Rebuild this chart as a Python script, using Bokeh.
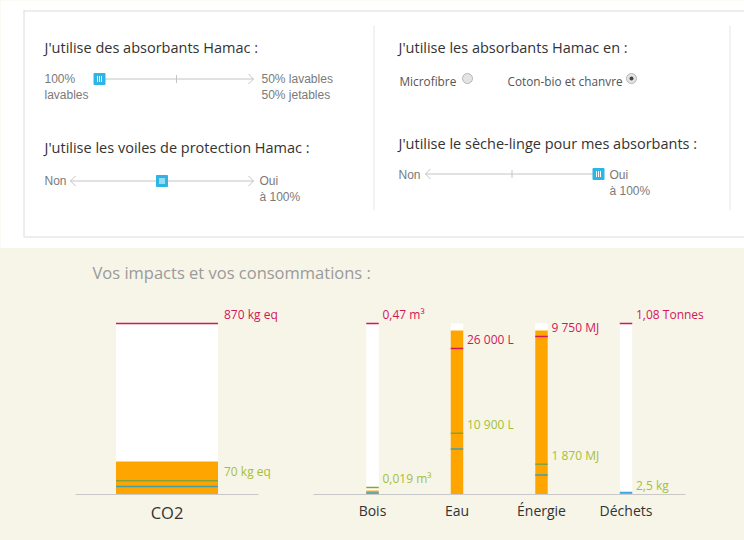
from bokeh.plotting import figure
from bokeh.models import ColumnDataSource, Range1d, LabelSet, FixedTicker
from bokeh.layouts import column, row
from bokeh.embed import file_html
from bokeh.resources import INLINE
from bokeh.core.properties import value

# ---------------- data ----------------
categories = ["CO2", "Bois", "Eau", "Énergie", "Déchets"]
scale_max = [870, 0.47, 30440, 10550, 1080]      # top of white column
worst = [870, 0.47, 26000, 9750, 1080]           # red reference line
current = [168, 0.011, 29200, 10120, 0]          # orange bar
best = [70, 0.019, 10900, 1870, 2.5]             # olive line
low = [41, 0.004, 8080, 1200, 12]                # teal line
worst_labels = ["870 kg eq", "0,47 m³", "26 000 L", "9 750 MJ", "1,08 Tonnes"]
best_labels = ["70 kg eq", "0,019 m³", "10 900 L", "1 870 MJ", "2,5 kg"]
low_colors = ["#3d9fb0", "#3aa8d8", "#3d9fb0", "#3d9fb0", "#3aa8dc"]

slider_titles = ["J'utilise des absorbants Hamac :", "J'utilise les absorbants Hamac en :",
                 "J'utilise les voiles de protection Hamac :", "J'utilise le sèche-linge pour mes absorbants :"]
slider_positions = [0.0, 0.5, 1.0]               # fraction along each track
radio_labels = ["Microfibre", "Coton-bio et chanvre"]
radio_selected = [False, True]

CREAM = "#f6f5e8"
ORANGE = "#ffa500"
RED = "#d3175a"
OLIVE_TXT = "#a6bf3a"
OLIVE_LINE = "#86a23c"
HANDLE = "#2db6e3"
GREY_TXT = "#7a7a7a"

# ---------------- top control panel ----------------
top = figure(width=744, height=248, x_range=Range1d(0, 744), y_range=Range1d(248, 0),
             output_backend="svg", toolbar_location=None, min_border=0,
             x_axis_location=None, y_axis_location=None)
top.grid.visible = False
top.outline_line_color = None
top.background_fill_color = "white"
top.border_fill_color = "white"

# frame of the form
top.segment(x0=[23, 23.5, 23], y0=[10.5, 10, 236.5], x1=[744, 23.5, 744], y1=[10.5, 236, 236.5],
            line_color="#dcdcdc", line_width=1)
top.segment(x0=[373.5, 729.5], y0=[25, 25], x1=[373.5, 729.5], y1=[210, 210],
            line_color="#e6e6e6", line_width=1)

top.text(x=[44, 398, 44, 398], y=[47, 47, 147, 143], text=slider_titles,
         text_font=value("Open Sans"), text_font_size="14.5px", text_color="#333333",
         text_align="left", text_baseline="middle")

# sliders: track start, track end, y
tracks = [(99, 253, 78.5), (70, 253, 180.5), (425, 598, 173.5)]
left_arrow = [False, True, True]
right_arrow = [True, True, False]
mid_tick = [True, False, True]
for (x0, x1, y), pos, la, ra, mt in zip(tracks, slider_positions, left_arrow, right_arrow, mid_tick):
    top.segment(x0=[x0], y0=[y], x1=[x1], y1=[y], line_color="#c4c4c4", line_width=1)
    if ra:
        top.multi_line(xs=[[x1 - 5, x1, x1 - 5]], ys=[[y - 5, y, y + 5]], line_color="#c4c4c4", line_width=1)
    if la:
        top.multi_line(xs=[[x0 + 5, x0, x0 + 5]], ys=[[y - 5, y, y + 5]], line_color="#c4c4c4", line_width=1)
    if mt:
        xm = (x0 + x1) / 2
        top.segment(x0=[xm], y0=[y - 4], x1=[xm], y1=[y + 4], line_color="#c4c4c4", line_width=1)
    hx = x0 + pos * (x1 - x0)
    top.rect(x=[hx], y=[y], width=11, height=11, fill_color=HANDLE, line_color=HANDLE)
    top.segment(x0=[hx - 2, hx, hx + 2], y0=[y - 3] * 3, x1=[hx - 2, hx, hx + 2], y1=[y + 3] * 3,
                line_color="white", line_width=1)

side_txt_x = [44, 44, 261, 261, 44, 259, 259, 398, 609, 609]
side_txt_y = [78, 94, 78, 94, 180, 180, 196, 174, 174, 190]
side_txt = ["100%", "lavables", "50% lavables", "50% jetables", "Non", "Oui", "à 100%", "Non", "Oui", "à 100%"]
top.text(x=side_txt_x, y=side_txt_y, text=side_txt, text_font=value("Liberation Sans"),
         text_font_size="12px", text_color=GREY_TXT, text_align="left", text_baseline="middle")

# radio buttons
top.text(x=[399, 507], y=[80, 80], text=radio_labels, text_font=value("Open Sans"),
         text_font_size="11.8px", text_color="#555555", text_align="left", text_baseline="middle")
rx = [467, 631]
top.circle(x=rx, y=[78, 78], radius=5, fill_color="#e4e4e4", line_color="#b5b5b5", line_width=1)
top.circle(x=[x for x, s in zip(rx, radio_selected) if s], y=[78], radius=2,
           fill_color="#444444", line_color=None)

# ---------------- title strip ----------------
title_fig = figure(width=744, height=47, x_range=Range1d(0, 744), y_range=Range1d(295, 248),
                   output_backend="svg", toolbar_location=None, min_border=0,
                   x_axis_location=None, y_axis_location=None)
title_fig.grid.visible = False
title_fig.outline_line_color = None
title_fig.background_fill_color = CREAM
title_fig.border_fill_color = CREAM
title_fig.text(x=[92], y=[272], text=["Vos impacts et vos consommations :"],
               text_font=value("Open Sans"), text_font_size="16.5px", text_color="#9a9a9a",
               text_align="left", text_baseline="middle")


# ---------------- charts ----------------
def build(idx, width, x_start, x_end, axis_bounds, bar_w, dx, cat_size):
    cats = [categories[i] for i in idx]
    pos = list(range(len(idx)))
    src = ColumnDataSource(dict(
        x=pos,
        full=[scale_max[i] / scale_max[i] for i in idx],
        cur=[current[i] / scale_max[i] for i in idx],
        worst=[worst[i] / scale_max[i] for i in idx],
        best=[best[i] / scale_max[i] for i in idx],
        low=[low[i] / scale_max[i] for i in idx],
        lowc=[low_colors[i] for i in idx],
        wl=[worst_labels[i] for i in idx],
        bl=[best_labels[i] for i in idx],
    ))
    p = figure(x_range=Range1d(x_start, x_end), y_range=Range1d(0, 199 / 171),
               width=width, height=245, output_backend="svg", toolbar_location=None,
               min_border_left=0, min_border_right=0, min_border_top=0, min_border_bottom=46,
               y_axis_location=None)
    p.grid.visible = False
    p.outline_line_color = None
    p.background_fill_color = CREAM
    p.border_fill_color = CREAM
    p.vbar(x="x", top="full", width=bar_w, fill_color="white", line_color=None, source=src)
    p.vbar(x="x", top="cur", width=bar_w, fill_color=ORANGE, line_color=None, source=src)
    p.rect(x="x", y="best", width=bar_w, height=1.5, height_units="screen",
           fill_color=OLIVE_LINE, line_color=None, source=src)
    p.rect(x="x", y="low", width=bar_w, height=1.5, height_units="screen",
           fill_color="lowc", line_color=None, source=src)
    p.rect(x="x", y="worst", width=bar_w, height=1.5, height_units="screen",
           fill_color=RED, line_color=None, source=src)
    p.add_layout(LabelSet(x="x", y="worst", text="wl", x_offset=dx, y_offset=9, source=src,
                          text_font=value("Open Sans"), text_font_size="12px", text_color=RED,
                          text_align="left", text_baseline="middle"))
    p.add_layout(LabelSet(x="x", y="best", text="bl", x_offset=dx, y_offset=9, source=src,
                          text_font=value("Open Sans"), text_font_size="12px", text_color=OLIVE_TXT,
                          text_align="left", text_baseline="middle"))
    ax = p.xaxis[0]
    ax.ticker = FixedTicker(ticks=pos)
    ax.major_label_overrides = {k: c for k, c in zip(pos, cats)}
    ax.bounds = axis_bounds
    ax.axis_line_color = "#c8c8c8"
    ax.major_tick_line_color = None
    ax.minor_tick_line_color = None
    ax.major_label_text_font = "Open Sans"
    ax.major_label_text_font_size = cat_size
    ax.major_label_text_color = "#333333"
    ax.major_label_standoff = 0
    return p


# CO2 panel: 183 px per unit, centre at x=166.5 px; other panel: 84.5 px per unit, first centre at 372 px
left = build([0], 300, -166.5 / 183, (300 - 166.5) / 183, (-0.5, 0.5), 102 / 183, 57, "16.5px")
right = build([1, 2, 3, 4], 444, (300 - 372) / 84.5, (744 - 372) / 84.5,
              ((313 - 372) / 84.5, (685 - 372) / 84.5), 12.5 / 84.5, 10, "14px")

charts = row(left, right, spacing=0, styles={"background-color": CREAM})
layout = column(top, title_fig, charts, spacing=0, styles={"background-color": CREAM})
open("out.html", "w").write(file_html(layout, INLINE))
